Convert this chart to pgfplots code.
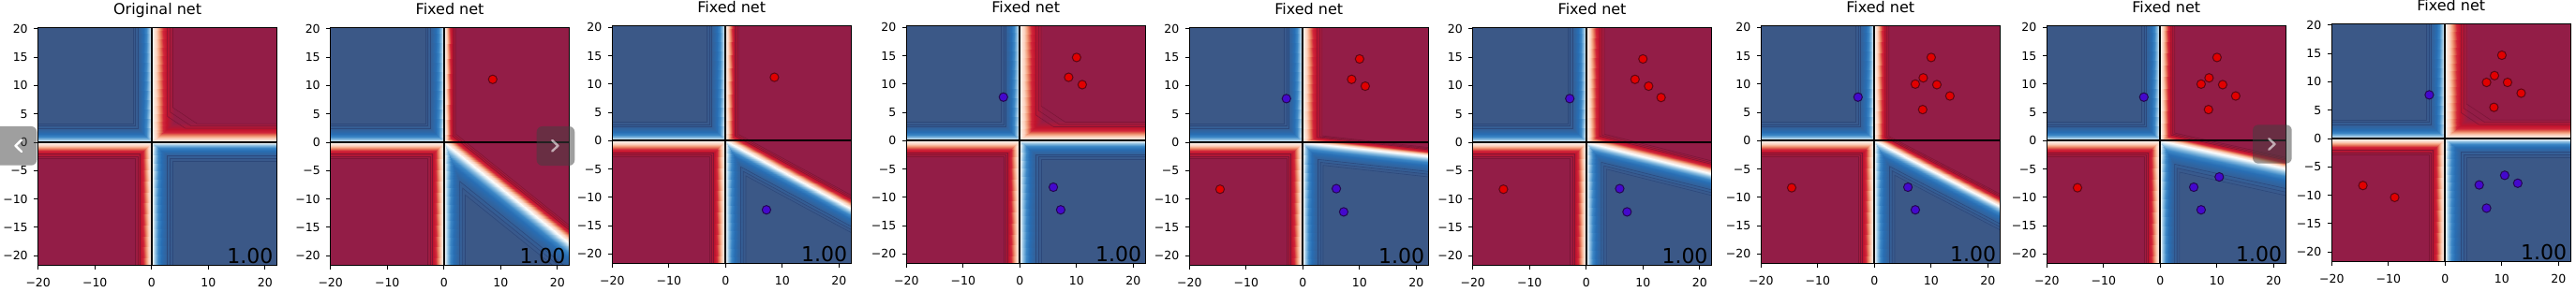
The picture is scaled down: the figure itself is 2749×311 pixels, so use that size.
\documentclass[border=0pt]{standalone}
\usepackage{fontspec}
\setmainfont{DejaVu Sans}
\usepackage{pgfplots}
\usepackage{pgfplotstable}
\pgfplotsset{compat=1.18}
\definecolor{cblue}{RGB}{59,88,135}
\definecolor{cred}{RGB}{147,29,71}
\definecolor{lblue}{RGB}{42,68,118}
\definecolor{lred}{RGB}{118,20,52}
\definecolor{ptred}{RGB}{225,0,0}
\definecolor{ptredE}{RGB}{95,5,20}
\definecolor{ptblue}{RGB}{68,8,205}
\definecolor{ptblueE}{RGB}{35,8,80}

% left half bands (shared by all panels): x y meta
\pgfplotstableread{
x y c
0 0 0
0 35 0
-3.5 35 -1
0 0 0
-3.5 35 -1
-3.5 3.5 -1
0 0 0
-35 0 0
-35 3.5 -1
0 0 0
-35 3.5 -1
-3.5 3.5 -1
0 0 0
-35 0 0
-35 -3 1
0 0 0
-35 -3 1
-3 -3 1
0 0 0
0 -35 0
-3 -35 1
0 0 0
-3 -35 1
-3 -3 1
}\tabL

% right half, symmetric (panels 1, 4, 9)
\pgfplotstableread{
x y c
0 0 0
0 35 0
4 35 1
0 0 0
4 35 1
4 3.5 1
0 0 0
35 0 0
35 3.5 1
0 0 0
35 3.5 1
4 3.5 1
0 0 0
0 -35 0
4 -35 -1
0 0 0
4 -35 -1
4 -3.5 -1
0 0 0
35 0 0
35 -3.5 -1
0 0 0
35 -3.5 -1
4 -3.5 -1
}\tabRS

% right half with a tilted boundary, panel 2
\pgfplotstableread{
x y c
0 0 0
0 35 0
2.2 35 1
0 0 0
2.2 35 1
2.2 1.566 1
0 0 0
35 -28.21 0
35 -24.87 1
0 0 0
35 -24.87 1
2.2 1.566 1
0 0 0
35 -28.21 0
35 -34.89 -1
0 0 0
35 -34.89 -1
4 -9.9 -1
0 0 0
0 -35 0
4 -35 -1
0 0 0
4 -35 -1
4 -9.9 -1
}\tabRb

% panel 3
\pgfplotstableread{
x y c
0 0 0
0 35 0
2.4 35 1
0 0 0
2.4 35 1
2.4 1.204 1
0 0 0
35 -18.9 0
35 -16.4 1
0 0 0
35 -16.4 1
2.4 1.204 1
0 0 0
35 -18.9 0
35 -23.446 -1
0 0 0
35 -23.446 -1
3.8 -6.598 -1
0 0 0
0 -35 0
3.8 -35 -1
0 0 0
3.8 -35 -1
3.8 -6.598 -1
}\tabRc

% panel 5
\pgfplotstableread{
x y c
0 0 0
0 35 0
3.6 35 1
0 0 0
3.6 35 1
3.6 1.214 1
0 0 0
35 -3.85 0
35 -2.24 1
0 0 0
35 -2.24 1
3.6 1.214 1
0 0 0
35 -3.85 0
35 -7.773 -1
0 0 0
35 -7.773 -1
3.8 -4.341 -1
0 0 0
0 -35 0
3.8 -35 -1
0 0 0
3.8 -35 -1
3.8 -4.341 -1
}\tabRe

% panel 6
\pgfplotstableread{
x y c
0 0 0
0 35 0
3.4 35 1
0 0 0
3.4 35 1
3.4 1.521 1
0 0 0
35 -8.75 0
35 -6.379 1
0 0 0
35 -6.379 1
3.4 1.521 1
0 0 0
35 -8.75 0
35 -12.873 -1
0 0 0
35 -12.873 -1
3.8 -5.073 -1
0 0 0
0 -35 0
3.8 -35 -1
0 0 0
3.8 -35 -1
3.8 -5.073 -1
}\tabRf

% panel 7
\pgfplotstableread{
x y c
0 0 0
0 35 0
2.7 35 1
0 0 0
2.7 35 1
2.7 0.85 1
0 0 0
35 -18.2 0
35 -15.946 1
0 0 0
35 -15.946 1
2.7 0.85 1
0 0 0
35 -18.2 0
35 -22.708 -1
0 0 0
35 -22.708 -1
3.8 -6.484 -1
0 0 0
0 -35 0
3.8 -35 -1
0 0 0
3.8 -35 -1
3.8 -6.484 -1
}\tabRg

% panel 8
\pgfplotstableread{
x y c
0 0 0
0 35 0
2.7 35 1
0 0 0
2.7 35 1
2.7 1.454 1
0 0 0
35 -7.7 0
35 -5.652 1
0 0 0
35 -5.652 1
2.7 1.454 1
0 0 0
35 -7.7 0
35 -12.82 -1
0 0 0
35 -12.82 -1
3.6 -5.912 -1
0 0 0
0 -35 0
3.6 -35 -1
0 0 0
3.6 -35 -1
3.6 -5.912 -1
}\tabRh

\pgfplotsset{
  panel/.style={
    scale only axis, width=254.8pt, height=254.2pt, anchor=south west,
    xmin=-20, xmax=22.1, ymin=-21.7, ymax=20.3,
    xtick={-20,-10,0,10,20}, xticklabels={−20,−10,0,10,20},
    ytick={-20,-15,-10,-5,0,5,10,15,20},
    yticklabels={−20,−15,−10,−5,0,5,10,15,20},
    tick pos=left, tick align=outside, major tick length=4.4pt,
    tick style={black, line width=0.9pt},
    axis line style={line width=0.9pt},
    tick label style={font=\fontsize{12.5}{13}\selectfont},
    xticklabel style={anchor=north, inner sep=0pt, yshift=-9.4pt},
    yticklabel style={anchor=east, inner sep=0pt, xshift=-6.4pt},
    title style={font=\fontsize{16}{17}\selectfont, at={(0.5,1)}, anchor=base, yshift=7.6pt, inner sep=0pt},
    axis on top,
    unbounded coords=jump,
    colormap={rdb}{
      rgb255(0cm)=(59,88,135)
      rgb255(15cm)=(56,90,142)
      rgb255(40cm)=(48,100,160)
      rgb255(58cm)=(40,110,180)
      rgb255(72cm)=(60,135,198)
      rgb255(85cm)=(140,190,225)
      rgb255(95cm)=(225,238,246)
      rgb255(100cm)=(252,252,252)
      rgb255(105cm)=(253,240,232)
      rgb255(120cm)=(251,208,189)
      rgb255(130cm)=(244,165,130)
      rgb255(141cm)=(224,101,79)
      rgb255(150cm)=(210,38,58)
      rgb255(165cm)=(192,19,45)
      rgb255(185cm)=(165,27,61)
      rgb255(200cm)=(147,29,71)
    },
    point meta min=-1, point meta max=1,
  },
  bandpatch/.style={patch, patch type=triangle, shader=interp, point meta=explicit},
  bline/.style={lblue, line width=0.6pt, opacity=0.8},
  rline/.style={lred, line width=0.6pt, opacity=0.8},
  redpts/.style={only marks, mark=*, mark size=4.6pt, mark options={fill=ptred, draw=ptredE, line width=1pt}},
  bluepts/.style={only marks, mark=*, mark size=4.6pt, mark options={fill=ptblue, draw=ptblueE, line width=1pt}},
}

\newcommand{\leftpart}{%
  \addplot[draw=none, fill=cblue] coordinates {(-35,0) (0,0) (0,35) (-35,35)} -- cycle;
  \addplot[draw=none, fill=cred] coordinates {(-35,0) (0,0) (0,-35) (-35,-35)} -- cycle;
  \addplot[bandpatch] table[x=x, y=y, meta=c] {\tabL};
  \addplot[bline] coordinates {(-35,2.45) (-2.45,2.45) (-2.45,35) (nan,nan)
    (-35,2.87) (-2.87,2.87) (-2.87,35) (nan,nan) (-35,3.29) (-3.29,3.29) (-3.29,35)};
  \addplot[rline] coordinates {(-35,-2.1) (-2.1,-2.1) (-2.1,-35) (nan,nan)
    (-35,-2.46) (-2.46,-2.46) (-2.46,-35) (nan,nan) (-35,-2.82) (-2.82,-2.82) (-2.82,-35)};
}
\newcommand{\rightsym}{%
  \addplot[draw=none, fill=cred] coordinates {(0,0) (0,35) (35,35) (35,0)} -- cycle;
  \addplot[draw=none, fill=cblue] coordinates {(0,0) (35,0) (35,-35) (0,-35)} -- cycle;
  \addplot[bandpatch] table[x=x, y=y, meta=c] {\tabRS};
  \addplot[rline] coordinates {(2.8,35) (2.8,4.55) (5.95,2.45) (35,2.45) (nan,nan)
    (3.28,35) (3.28,5.33) (6.97,2.87) (35,2.87) (nan,nan)
    (3.76,35) (3.76,6.11) (8.0,3.29) (35,3.29)};
  \addplot[bline] coordinates {(2.8,-35) (2.8,-2.45) (35,-2.45) (nan,nan)
    (3.28,-35) (3.28,-2.87) (35,-2.87) (nan,nan) (3.76,-35) (3.76,-3.29) (35,-3.29)};
}
% #1 = y of the tilted boundary at x=35, #2 = band table
\newcommand{\rightray}[2]{%
  \addplot[draw=none, fill=cred] coordinates {(0,0) (0,35) (35,35) (35,#1)} -- cycle;
  \addplot[draw=none, fill=cblue] coordinates {(0,0) (35,#1) (35,-35) (0,-35)} -- cycle;
  \addplot[bandpatch] table[x=x, y=y, meta=c] {#2};
}
\newcommand{\zerolines}{%
  \addplot[black, line width=2.2pt] coordinates {(-35,0) (35,0)};
  \addplot[black, line width=2.2pt] coordinates {(0,-35) (0,35)};
}
\newcommand{\score}{%
  \node[anchor=south east, inner sep=0pt, font=\fontsize{22}{22}\selectfont] at (rel axis cs:0.985,0.006) {1.00};
}

\begin{document}
\begin{tikzpicture}
\path[use as bounding box] (0pt,0pt) rectangle (2749pt,311pt);

% 1
\begin{axis}[panel, at={(40.7pt,27.7pt)}, title={Original net}]
\leftpart \rightsym \zerolines \score
\end{axis}

% 2
\begin{axis}[panel, at={(352.7pt,27.7pt)}, title={Fixed net}]
\leftpart \rightray{-28.21}{\tabRb}
\addplot[rline] coordinates {(1.54,35) (1.54,1.096) (35,-25.87) (nan,nan)
  (1.804,35) (1.804,1.284) (35,-25.47) (nan,nan) (2.068,35) (2.068,1.472) (35,-25.07)};
\addplot[bline] coordinates {(2.8,-35) (2.8,-6.93) (35,-32.89) (nan,nan)
  (3.28,-35) (3.28,-8.118) (35,-33.69) (nan,nan) (3.76,-35) (3.76,-9.306) (35,-34.49)};
\zerolines
\addplot[redpts] coordinates {(8.6,11.1)};
\score
\end{axis}

% 3
\begin{axis}[panel, at={(653.3pt,29.3pt)}, title={Fixed net}]
\leftpart \rightray{-18.9}{\tabRc}
\addplot[rline] coordinates {(1.68,35) (1.68,0.843) (35,-17.15) (nan,nan)
  (1.968,35) (1.968,0.987) (35,-16.85) (nan,nan) (2.256,35) (2.256,1.132) (35,-16.55)};
\addplot[bline] coordinates {(2.66,-35) (2.66,-4.619) (35,-22.08) (nan,nan)
  (3.116,-35) (3.116,-5.41) (35,-22.63) (nan,nan) (3.572,-35) (3.572,-6.202) (35,-23.17)};
\zerolines
\addplot[redpts] coordinates {(8.6,11.2)};
\addplot[bluepts] coordinates {(7.2,-12.2)};
\score
\end{axis}

% 4
\begin{axis}[panel, at={(967.3pt,29.3pt)}, title={Fixed net}]
\leftpart \rightsym \zerolines
\addplot[redpts] coordinates {(8.6,11.2) (10,14.7) (11,9.9)};
\addplot[bluepts] coordinates {(-2.9,7.7) (5.9,-8.2) (7.2,-12.2)};
\score
\end{axis}

% 5
\begin{axis}[panel, at={(1269.3pt,27.7pt)}, title={Fixed net}]
\leftpart \rightray{-3.85}{\tabRe}
\addplot[rline] coordinates {(2.52,35) (2.52,0.85) (35,-2.723) (nan,nan)
  (2.952,35) (2.952,0.995) (35,-2.53) (nan,nan) (3.384,35) (3.384,1.141) (35,-2.337)};
\addplot[bline] coordinates {(2.66,-35) (2.66,-3.039) (35,-6.596) (nan,nan)
  (3.116,-35) (3.116,-3.56) (35,-7.067) (nan,nan) (3.572,-35) (3.572,-4.081) (35,-7.538)};
\zerolines
\addplot[redpts] coordinates {(8.6,11.1) (10,14.7) (11,9.9) (-14.6,-8.3)};
\addplot[bluepts] coordinates {(-2.9,7.7) (5.9,-8.2) (7.2,-12.3)};
\score
\end{axis}

% 6
\begin{axis}[panel, at={(1571.7pt,27.7pt)}, title={Fixed net}]
\leftpart \rightray{-8.75}{\tabRf}
\addplot[rline] coordinates {(2.38,35) (2.38,1.065) (35,-7.09) (nan,nan)
  (2.788,35) (2.788,1.247) (35,-6.806) (nan,nan) (3.196,35) (3.196,1.43) (35,-6.521)};
\addplot[bline] coordinates {(2.66,-35) (2.66,-3.551) (35,-11.636) (nan,nan)
  (3.116,-35) (3.116,-4.16) (35,-12.131) (nan,nan) (3.572,-35) (3.572,-4.769) (35,-12.626)};
\zerolines
\addplot[redpts] coordinates {(8.6,11.1) (10,14.7) (11,9.9) (13.2,7.9) (-14.6,-8.3)};
\addplot[bluepts] coordinates {(-2.9,7.7) (5.9,-8.2) (7.2,-12.3)};
\score
\end{axis}

% 7
\begin{axis}[panel, at={(1879.3pt,29.3pt)}, title={Fixed net}]
\leftpart \rightray{-18.2}{\tabRg}
\addplot[rline] coordinates {(1.89,35) (1.89,0.595) (35,-16.62) (nan,nan)
  (2.214,35) (2.214,0.697) (35,-16.35) (nan,nan) (2.538,35) (2.538,0.799) (35,-16.08)};
\addplot[bline] coordinates {(2.66,-35) (2.66,-4.539) (35,-21.36) (nan,nan)
  (3.116,-35) (3.116,-5.317) (35,-21.9) (nan,nan) (3.572,-35) (3.572,-6.095) (35,-22.44)};
\zerolines
\addplot[redpts] coordinates {(10,14.7) (8.6,11.1) (7.2,10) (11,9.9) (13.3,7.9) (8.5,5.5) (-14.6,-8.3)};
\addplot[bluepts] coordinates {(-2.9,7.7) (5.9,-8.2) (7.2,-12.2)};
\score
\end{axis}

% 8
\begin{axis}[panel, at={(2184.3pt,29.3pt)}, title={Fixed net}]
\leftpart \rightray{-7.7}{\tabRh}
\addplot[rline] coordinates {(1.89,35) (1.89,1.018) (35,-6.266) (nan,nan)
  (2.214,35) (2.214,1.192) (35,-6.021) (nan,nan) (2.538,35) (2.538,1.367) (35,-5.775)};
\addplot[bline] coordinates {(2.52,-35) (2.52,-4.138) (35,-11.28) (nan,nan)
  (2.952,-35) (2.952,-4.848) (35,-11.9) (nan,nan) (3.384,-35) (3.384,-5.557) (35,-12.51)};
\zerolines
\addplot[redpts] coordinates {(10,14.7) (8.6,11.1) (7.2,10) (11,9.9) (13.3,7.9) (8.5,5.5) (-14.6,-8.3)};
\addplot[bluepts] coordinates {(-2.9,7.7) (5.9,-8.2) (7.2,-12.2) (10.4,-6.4)};
\score
\end{axis}

% 9
\begin{axis}[panel, at={(2488.3pt,31.7pt)}, title={Fixed net}]
\leftpart \rightsym \zerolines
\addplot[redpts] coordinates {(10,14.7) (8.7,11.1) (7.3,9.9) (11,9.9) (13.4,8) (8.6,5.5) (-14.5,-8.3) (-8.9,-10.4)};
\addplot[bluepts] coordinates {(-2.8,7.7) (6,-8.2) (7.3,-12.3) (10.5,-6.5) (12.8,-7.9)};
\score
\end{axis}

% carousel buttons overlaid on the screenshot
\fill[black!75, opacity=0.5, rounded corners=6pt] (-10pt,134.3pt) rectangle (39.3pt,176pt);
\draw[white, line width=2.4pt, line cap=round, line join=round] (23pt,161.5pt) -- (16.5pt,155.3pt) -- (23pt,149pt);
\fill[black!75, opacity=0.5, rounded corners=6pt] (572.7pt,134pt) rectangle (613.3pt,176pt);
\draw[white, opacity=0.6, line width=2.4pt, line cap=round, line join=round] (589.3pt,161pt) -- (595.5pt,155.3pt) -- (589.3pt,149.5pt);
\fill[black!75, opacity=0.5, rounded corners=6pt] (2404pt,136.3pt) rectangle (2445.7pt,177.7pt);
\draw[white, opacity=0.6, line width=2.4pt, line cap=round, line join=round] (2421.3pt,162.7pt) -- (2427.5pt,157pt) -- (2421.3pt,151.3pt);
\end{tikzpicture}
\end{document}
